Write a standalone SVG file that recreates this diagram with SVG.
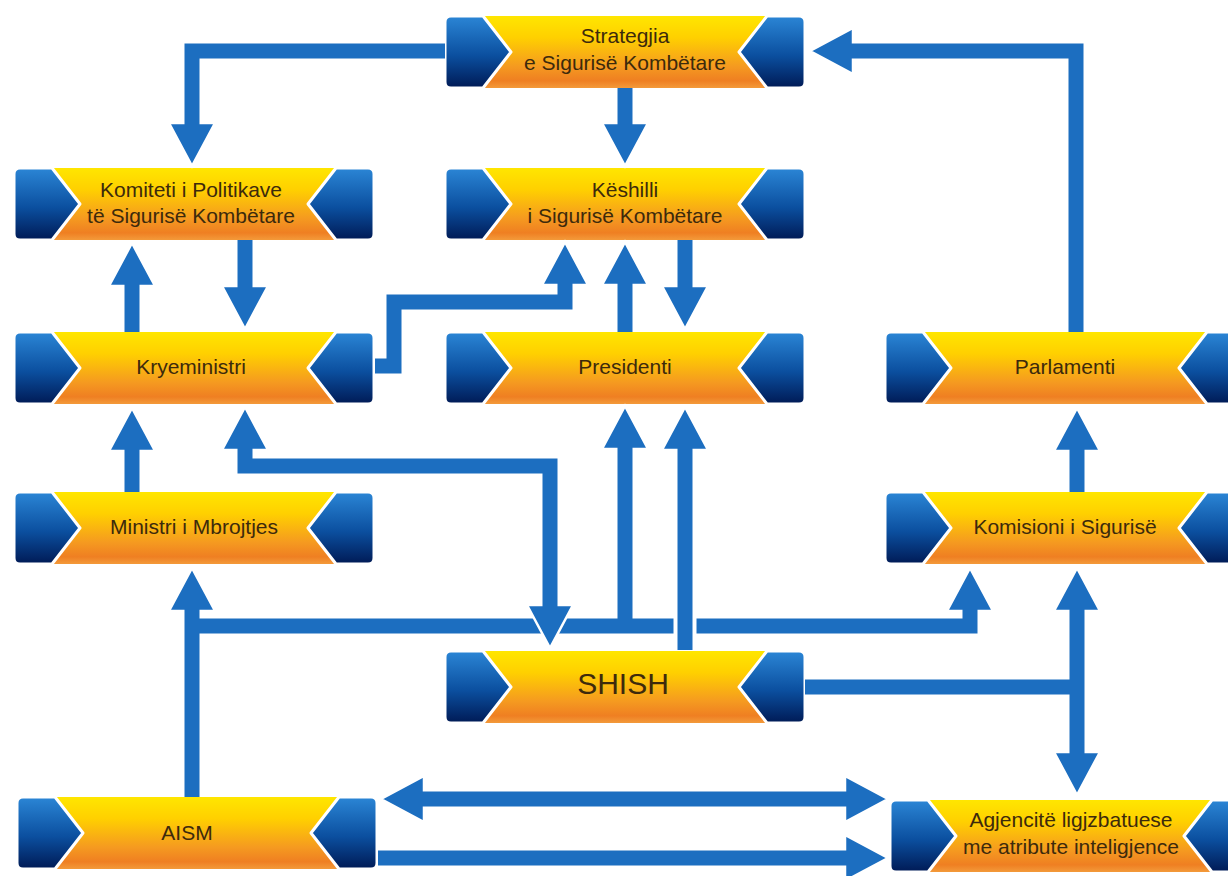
<svg xmlns="http://www.w3.org/2000/svg" xmlns:xlink="http://www.w3.org/1999/xlink" width="1228" height="876" viewBox="0 0 1228 876">
<defs>
<linearGradient id="gOrange" x1="0" y1="0" x2="0" y2="1">
<stop offset="0" stop-color="#ffe600"/>
<stop offset="0.3" stop-color="#ffd000"/>
<stop offset="0.7" stop-color="#f59a20"/>
<stop offset="0.9" stop-color="#ef7f22"/>
<stop offset="1" stop-color="#f39a3a"/>
</linearGradient>
<linearGradient id="gBlue" x1="0" y1="0" x2="0" y2="1">
<stop offset="0" stop-color="#2b86d6"/>
<stop offset="0.55" stop-color="#0b4f9f"/>
<stop offset="1" stop-color="#001a55"/>
</linearGradient>
<path id="capL" class="cap" d="M6,0 H38 L66,36 L38,72 H6 Q0,72 0,66 V6 Q0,0 6,0 Z"/>
<path id="capR" class="cap" d="M354,0 H322 L294,36 L322,72 H354 Q360,72 360,66 V6 Q360,0 354,0 Z"/>
<style>
.body{fill:url(#gOrange);}
.cap{fill:url(#gBlue);stroke:#ffffff;stroke-width:3;stroke-linejoin:round;}
.lbl{font-family:"Liberation Sans",Arial,sans-serif;font-size:21px;fill:#3d2a0c;text-anchor:middle;}
.big{font-size:30px;}
.ln{fill:none;stroke:#1c6ec0;stroke-width:15;stroke-linejoin:miter;stroke-linecap:butt;}
.halo{fill:none;stroke:#ffffff;stroke-width:23;}
.ah{fill:#1c6ec0;stroke:#ffffff;stroke-width:2.5;stroke-linejoin:miter;}
</style>
</defs>
<rect x="0" y="0" width="1228" height="876" fill="#ffffff"/>

<g id="n-strategjia" transform="translate(445,16)">
<rect class="body" x="40" y="0" width="280" height="72"/>
<use xlink:href="#capL"/><use xlink:href="#capR"/>
<text class="lbl" x="180" y="27">Strategjia</text>
<text class="lbl" x="180" y="54">e Sigurisë Kombëtare</text>
</g>

<g id="n-komiteti" transform="translate(14,168)">
<rect class="body" x="40" y="0" width="280" height="72"/>
<use xlink:href="#capL"/><use xlink:href="#capR"/>
<text class="lbl" x="177" y="29">Komiteti i Politikave</text>
<text class="lbl" x="177" y="55">të Sigurisë Kombëtare</text>
</g>

<g id="n-keshilli" transform="translate(445,168)">
<rect class="body" x="40" y="0" width="280" height="72"/>
<use xlink:href="#capL"/><use xlink:href="#capR"/>
<text class="lbl" x="180" y="29">Këshilli</text>
<text class="lbl" x="180" y="55">i Sigurisë Kombëtare</text>
</g>

<g id="n-kryeministri" transform="translate(14,332)">
<rect class="body" x="40" y="0" width="280" height="72"/>
<use xlink:href="#capL"/><use xlink:href="#capR"/>
<text class="lbl" x="177" y="42">Kryeministri</text>
</g>

<g id="n-presidenti" transform="translate(445,332)">
<rect class="body" x="40" y="0" width="280" height="72"/>
<use xlink:href="#capL"/><use xlink:href="#capR"/>
<text class="lbl" x="180" y="42">Presidenti</text>
</g>

<g id="n-parlamenti" transform="translate(885,332)">
<rect class="body" x="40" y="0" width="280" height="72"/>
<use xlink:href="#capL"/><use xlink:href="#capR"/>
<text class="lbl" x="180" y="42">Parlamenti</text>
</g>

<g id="n-ministri" transform="translate(14,492)">
<rect class="body" x="40" y="0" width="280" height="72"/>
<use xlink:href="#capL"/><use xlink:href="#capR"/>
<text class="lbl" x="180" y="42">Ministri i Mbrojtjes</text>
</g>

<g id="n-komisioni" transform="translate(885,492)">
<rect class="body" x="40" y="0" width="280" height="72"/>
<use xlink:href="#capL"/><use xlink:href="#capR"/>
<text class="lbl" x="180" y="42">Komisioni i Sigurisë</text>
</g>

<g id="n-shish" transform="translate(445,651)">
<rect class="body" x="40" y="0" width="280" height="72"/>
<use xlink:href="#capL"/><use xlink:href="#capR"/>
<text class="lbl big" x="178" y="43">SHISH</text>
</g>

<g id="n-aism" transform="translate(17,797)">
<rect class="body" x="40" y="0" width="280" height="72"/>
<use xlink:href="#capL"/><use xlink:href="#capR"/>
<text class="lbl" x="170" y="43">AISM</text>
</g>

<g id="n-agjencite" transform="translate(890,800)">
<rect class="body" x="40" y="0" width="280" height="72"/>
<use xlink:href="#capL"/><use xlink:href="#capR"/>
<text class="lbl" x="181" y="27">Agjencitë ligjzbatuese</text>
<text class="lbl" x="181" y="54">me atribute inteligjence</text>
</g>

<g id="connectors">
<!-- Strategjia -> Komiteti -->
<polygon class="ah" points="192,166 169,123 215,123"/>
<path class="ln" d="M445,51 H192 V129"/>
<!-- Strategjia -> Keshilli -->
<polygon class="ah" points="625,166 602,123 648,123"/>
<path class="ln" d="M625,88 V129"/>
<!-- Parlamenti -> Strategjia -->
<polygon class="ah" points="810,51 853,28 853,74"/>
<path class="ln" d="M1076,332 V51 H846"/>
<!-- Komiteti -> Kryeministri -->
<polygon class="ah" points="245,329 222,286 268,286"/>
<path class="ln" d="M245,240 V292"/>
<!-- Kryeministri -> Komiteti -->
<polygon class="ah" points="132,243 109,286 155,286"/>
<path class="ln" d="M132,332 V280"/>
<!-- Kryeministri -> Keshilli -->
<polygon class="ah" points="565,242 542,285 588,285"/>
<path class="ln" d="M375,366 H394 V302 H565 V279"/>
<!-- Presidenti -> Keshilli -->
<polygon class="ah" points="625,242 602,285 648,285"/>
<path class="ln" d="M625,332 V279"/>
<!-- Keshilli -> Presidenti -->
<polygon class="ah" points="685,329 662,286 708,286"/>
<path class="ln" d="M685,240 V292"/>
<!-- Ministri -> Kryeministri -->
<polygon class="ah" points="132,408 109,451 155,451"/>
<path class="ln" d="M132,492 V445"/>
<!-- AISM -> Ministri / Presidenti / Komisioni -->
<polygon class="ah" points="192,568 169,611 215,611"/>
<polygon class="ah" points="970,568 947,611 993,611"/>
<polygon class="ah" points="625,406 602,449 648,449"/>
<path class="ln" d="M192,797 V605"/>
<path class="ln" d="M185,626 H970 V605"/>
<path class="ln" d="M625,626 V443"/>
<!-- Kryeministri <-> SHISH -->
<polygon class="ah" points="245,407 222,450 268,450"/>
<polygon class="ah" points="550,648 527,605 573,605"/>
<path class="ln" d="M245,444 V466 H550 V611"/>
<!-- SHISH -> Presidenti -->
<path class="halo" d="M685,650 V443"/>
<polygon class="ah" points="685,407 662,450 708,450"/>
<path class="ln" d="M685,650 V443"/>
<!-- SHISH -> Komisioni / Agjencite -->
<polygon class="ah" points="1077,568 1054,611 1100,611"/>
<polygon class="ah" points="1077,795 1054,752 1100,752"/>
<path class="ln" d="M805,687 H1077"/>
<path class="ln" d="M1077,605 V757"/>
<!-- Komisioni -> Parlamenti -->
<polygon class="ah" points="1077,408 1054,451 1100,451"/>
<path class="ln" d="M1077,492 V445"/>
<!-- AISM <-> Agjencite -->
<polygon class="ah" points="381,799 424,776 424,822"/>
<polygon class="ah" points="888,799 845,776 845,822"/>
<path class="ln" d="M418,799 H852"/>
<!-- AISM -> Agjencite -->
<polygon class="ah" points="888,858 845,835 845,881"/>
<path class="ln" d="M378,858 H852"/>
</g>
</svg>
